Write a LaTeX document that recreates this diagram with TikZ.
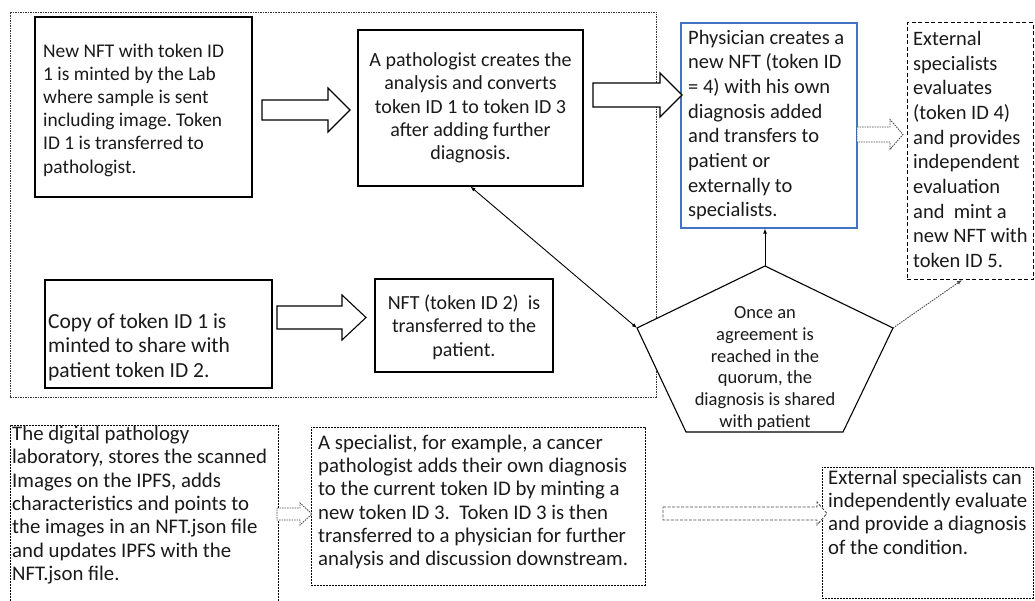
\documentclass[tikz,border=0pt]{standalone}
\usepackage{fontspec}
\setmainfont{Carlito}
\frenchspacing
\usetikzlibrary{arrows.meta}
\definecolor{boxblue}{HTML}{4472C4}
\definecolor{ink}{HTML}{1A1A1A}
\newcommand{\BArrow}[7]{%
  \draw[#1] (#2,{#5-#6}) -- (#3,{#5-#6}) -- (#3,{#5-#7}) -- (#4,#5) -- (#3,{#5+#7}) -- (#3,{#5+#6}) -- (#2,{#5+#6}) -- cycle;}
\tikzset{
  box/.style={draw=black, line width=1.2pt, inner sep=0pt, fill=none},
  bluebox/.style={draw=boxblue, line width=1.2pt, inner sep=0pt},
  dashbox/.style={draw=black, line width=1pt, inner sep=0pt, dash pattern=on 4pt off 2.5pt},
  dotbox/.style={draw=black, line width=0.9pt, inner sep=0pt, dash pattern=on 2pt off 1pt},
  outerbox/.style={draw=black!80, line width=0.9pt, dash pattern=on 1.5pt off 1pt},
  txt/.style={inner sep=0pt, align=left, text=ink, font=\fontsize{20}{23.3}\selectfont},
  ctxt/.style={txt, align=center},
  ptxt/.style={inner sep=0pt, align=center, text=ink, font=\fontsize{18.5}{21.7}\selectfont},
  blockar/.style={draw=black, line width=1.1pt, fill=white, line join=miter},
  dotar/.style={draw=black!70, line width=0.9pt, fill=white, dash pattern=on 1.5pt off 1pt},
  dashar/.style={draw=black!70, line width=0.9pt, fill=white, dash pattern=on 3pt off 1.5pt},
  conn/.style={draw=black, line width=0.9pt},
  tip/.style={-{Latex[length=5pt,width=4pt]}},
}
\begin{document}
\begin{tikzpicture}[x=1pt,y=-1pt]
\useasboundingbox (0,0) rectangle (1035,601);
\fill[white] (0,0) rectangle (1035,601);

% outer dotted frame
\node[outerbox, minimum width=646, minimum height=385] (frame) at (333,204.5) {};

% top row boxes
\node[box, minimum width=217, minimum height=180] (b1) at (143.5,107) {};
\node[txt, anchor=west, font=\fontsize{19.4}{23.2}\selectfont] (t1) at (43,110) {New NFT with token ID\\1 is minted by the Lab\\where sample is sent\\including image. Token\\ID 1 is transferred to\\pathologist.};

\node[box, minimum width=225, minimum height=156] (b2) at (470.5,108) {};
\node[ctxt] (t2) at (470.5,108) {A pathologist creates the\\analysis and converts\\token ID 1 to token ID 3\\after adding further\\diagnosis.};

\node[bluebox, minimum width=176, minimum height=205] (b3) at (769,125.5) {};
\node[txt, anchor=west, font=\fontsize{20.5}{24.7}\selectfont] (t3) at (688,125) {Physician creates a\\new NFT (token ID\\= 4) with his own\\diagnosis added\\and transfers to\\patient or\\externally to\\specialists.};

\node[dashbox, minimum width=126, minimum height=257] (b4) at (970,151.5) {};
\node[txt, anchor=west, font=\fontsize{20.5}{24.7}\selectfont] (t4) at (913,149.5) {External\\specialists\\evaluates\\(token ID 4)\\and provides\\independent\\evaluation\\and~ mint a\\new NFT with\\token ID 5.};

% middle row
\node[box, minimum width=227, minimum height=108] (b5) at (158.5,334) {};
\node[txt, anchor=west, font=\fontsize{21.5}{24.5}\selectfont] (t5) at (48,347) {Copy of token ID 1 is\\minted to share with\\patient token ID 2.};

\node[box, minimum width=178, minimum height=93] (b6) at (464,325.5) {};
\node[ctxt] (t6) at (464,327) {NFT (token ID 2)~ is\\transferred to the\\patient.};

% block arrows
\BArrow{blockar}{262}{328}{350}{110}{10}{22}
\BArrow{blockar}{593}{660}{682}{95}{12}{22}
\BArrow{dotar}{857}{890}{903}{134.5}{7.5}{15}
\BArrow{blockar}{277}{342}{366}{317.5}{11.5}{22.5}

% pentagon
\coordinate (pt) at (765,266);
\coordinate (pr) at (893,328);
\coordinate (pbr) at (843,432);
\coordinate (pbl) at (686,432);
\coordinate (pl) at (637,328);
\draw[line width=1.1pt, fill=white, line join=miter] (pt) -- (pr) -- (pbr) -- (pbl) -- (pl) -- cycle;
\node[ptxt] (tp) at (765,368.5) {Once an\\agreement is\\reached in the\\quorum, the\\diagnosis is shared\\with patient};

% connectors
\draw[conn, tip] (pt) -- (pt |- b3.south);
\draw[conn, {Latex[length=5pt,width=4pt]}-{Latex[length=5pt,width=4pt]}] (pl) -- (b2.south);
\coordinate (b4in) at (962,280);
\draw[conn, draw=black!70, dash pattern=on 1.5pt off 1pt, tip] (pr) -- (b4in);

% bottom row
\node[dotbox, minimum width=268, minimum height=190] (b7) at (144,520) {};
\node[txt, anchor=west, font=\fontsize{20.8}{23.3}\selectfont] (t7) at (12,505) {The digital pathology\\laboratory, stores the scanned\\Images on the IPFS, adds\\characteristics and points to\\the images in an NFT.json file\\and updates IPFS with the\\NFT.json file.};

\node[dotbox, minimum width=334, minimum height=158] (b8) at (478,506) {};
\node[txt, anchor=west, font=\fontsize{20.8}{23.1}\selectfont] (t8) at (318,502) {A specialist, for example, a cancer\\pathologist adds their own diagnosis\\to the current token ID by minting a\\new token ID 3.~ Token ID 3 is then\\transferred to a physician for further\\analysis and discussion downstream.};

\node[dotbox, minimum width=211, minimum height=131] (b9) at (927.5,532.5) {};
\node[txt, anchor=west, font=\fontsize{20.8}{23.3}\selectfont] (t9) at (828,512) {External specialists can\\independently evaluate\\and provide a diagnosis\\of the condition.};

\BArrow{dotar}{277}{300}{312}{514}{6}{11}
\BArrow{dashar}{663}{817}{827}{513.5}{6.5}{11.5}
\end{tikzpicture}
\end{document}
